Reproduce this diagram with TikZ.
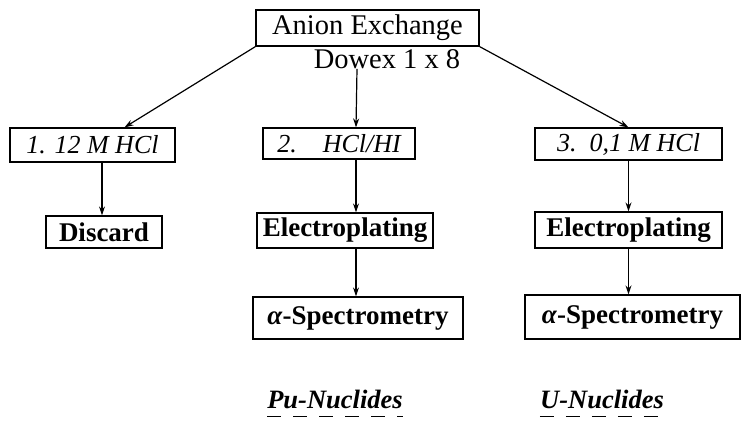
\documentclass[tikz,border=0pt]{standalone}
\usepackage{fontspec}
\setmainfont{Liberation Serif}
\usetikzlibrary{arrows.meta}
\tikzset{
  box/.style={draw, line width=1.2pt, inner sep=0pt},
  sz/.style 2 args={minimum width=#1pt, minimum height=#2pt},
  boldtxt/.style={font=\fontsize{27}{30}\selectfont\bfseries},
  ittxt/.style={font=\fontsize{26}{30}\selectfont\itshape},
  regtxt/.style={font=\fontsize{28.5}{30}\selectfont},
  arr/.style={line width=1.2pt, -{Stealth[length=9pt,width=6pt]}},
  lbl/.style={inner sep=0pt, font=\fontsize{26.5}{30}\selectfont\bfseries\itshape},
  uline/.style={line width=1.8pt, dash pattern=on 14pt off 12pt}
}
\begin{document}
\begin{tikzpicture}[x=1pt,y=-1pt]
\useasboundingbox (0,0) rectangle (741,433);
\node[box, sz={223}{36}, regtxt] (top) at (367.5,28) {Anion Exchange};
\node[inner sep=0pt, regtxt] (dowex) at (387,59) {Dowex 1 x 8};

\node[box, sz={165}{34}, ittxt] (b1) at (92.5,145) {1. 12 M HCl};
\node[box, sz={152}{31}, ittxt] (b2) at (339,143.5) {2.\quad HCl/HI};
\node[box, sz={187}{32}, ittxt] (b3) at (628.5,144) {3.\enspace 0,1 M HCl};

\node[box, sz={116}{32}, boldtxt] (d1) at (104,232) {Discard};
\node[box, sz={176}{35}, boldtxt] (e2) at (345,230.5) {Electroplating};
\node[box, sz={187}{36}, boldtxt] (e3) at (628.5,230) {Electroplating};

\node[box, sz={210}{42}, boldtxt] (a2) at (358,318) {\textit{α}-Spectrometry};
\node[box, sz={215}{44}, boldtxt] (a3) at (632.5,317) {\textit{α}-Spectrometry};

\draw[arr] (top.south west) -- ([xshift=32pt]b1.north);
\draw[arr] ([xshift=-30pt]dowex.south) -- ([xshift=17pt]b2.north);
\draw[arr] (top.south east) -- (b3.north);

\draw[arr] ([xshift=9.5pt]b1.south) -- ([xshift=-2pt]d1.north);
\draw[arr] ([xshift=17pt]b2.south) -- ([xshift=11pt]e2.north);
\draw[arr] (b3.south) -- (e3.north);
\draw[arr] ([xshift=11pt]e2.south) -- ([xshift=-2pt]a2.north);
\draw[arr] (e3.south) -- ([xshift=-4pt]a3.north);

\node[lbl] (pu) at (335,399) {Pu-Nuclides};
\node[lbl] (u) at (602,399) {U-Nuclides};
\draw[uline] ([yshift=-8pt]pu.south west) -- ([yshift=-8pt]pu.south east);
\draw[uline] ([yshift=-8pt]u.south west) -- ([yshift=-8pt]u.south east);
\end{tikzpicture}
\end{document}
